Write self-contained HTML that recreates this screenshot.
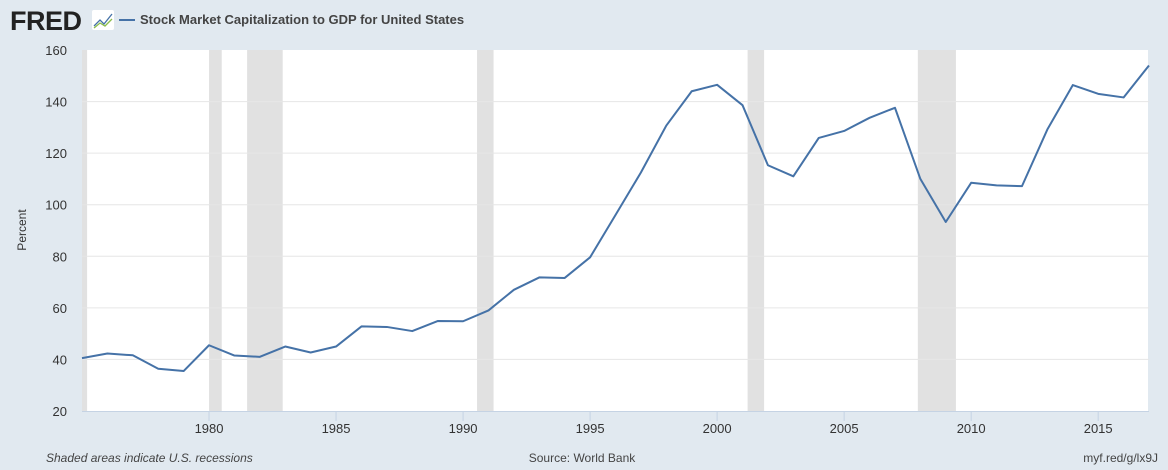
<!DOCTYPE html>
<html><head><meta charset="utf-8"><style>
body{margin:0;width:1168px;height:470px;background:#e1e9f0;font-family:"Liberation Sans",sans-serif;overflow:hidden}
</style></head><body>
<svg width="1168" height="470" style="position:absolute;left:0;top:0">
<text x="10" y="30" font-size="27" font-weight="900" fill="#222" letter-spacing="-0.5">FRED</text>
<g><rect x="92" y="10" width="22" height="20" fill="#fff" rx="2"/><polyline points="94,26 100,20 104,24 112,14" fill="none" stroke="#4572a7" stroke-width="1.3"/><polyline points="94,28 100,23 105,26 112,19" fill="none" stroke="#8bbd4a" stroke-width="1.3"/></g>
<line x1="119" y1="20" x2="135" y2="20" stroke="#4572a7" stroke-width="2"/>
<text x="140" y="24" font-size="13" font-weight="bold" fill="#444">Stock Market Capitalization to GDP for United States</text>
<rect x="82" y="50" width="1066" height="361" fill="#fff"/>
<g id="rec"></g><g id="grid"></g><g id="axes"></g><g id="series"></g>
<text x="26" y="230" font-size="12" fill="#333" transform="rotate(-90 26 230)" text-anchor="middle">Percent</text>
<text x="46" y="462" font-size="12" font-style="italic" fill="#444">Shaded areas indicate U.S. recessions</text>
<text x="582" y="462" font-size="12" fill="#444" text-anchor="middle">Source: World Bank</text>
<text x="1158" y="462" font-size="12" fill="#444" text-anchor="end">myf.red/g/lx9J</text>
</svg>
<script>
const years=[1975,1976,1977,1978,1979,1980,1981,1982,1983,1984,1985,1986,1987,1988,1989,1990,1991,1992,1993,1994,1995,1996,1997,1998,1999,2000,2001,2002,2003,2004,2005,2006,2007,2008,2009,2010,2011,2012,2013,2014,2015,2016,2017];
const values=[40.5,42.3,41.6,36.4,35.5,45.5,41.5,41.0,45.0,42.7,45.0,52.8,52.6,51.0,54.9,54.8,59.0,67.0,71.8,71.6,79.6,96,112.5,130.7,144,146.5,138.6,115.3,111,125.9,128.6,133.7,137.6,110,93.3,108.5,107.5,107.2,129.2,146.4,143,141.6,154];
const recStarts=[1975.0,1980.0,1981.5,1990.55,2001.2,2007.9];
const recEnds=[1975.2,1980.5,1982.9,1991.2,2001.85,2009.4];
const yTicks=[20,40,60,80,100,120,140,160];
const xTicks=[1980,1985,1990,1995,2000,2005,2010,2015];
const NS="http://www.w3.org/2000/svg";
const X0=82,X1=1149,Y0=411,Y1=50;
const xs=v=>X0+(v-1975)/(2017-1975)*(X1-X0);
const ys=v=>Y0-(v-20)/(160-20)*(Y0-Y1);
function mk(t,a,p){const e=document.createElementNS(NS,t);for(const k in a)e.setAttribute(k,a[k]);document.getElementById(p).appendChild(e);return e;}
recStarts.forEach((s,i)=>{const e=mk('rect',{x:xs(s),y:Y1,width:xs(recEnds[i])-xs(s),height:Y0-Y1,fill:'#e1e1e1'},'rec');

});
yTicks.forEach(v=>{if(v>20&&v<160){const g=mk('line',{x1:X0,x2:X1,y1:ys(v),y2:ys(v),stroke:'#e6e6e6'},'grid');

}
const t=mk('text',{x:67,y:ys(v)+5,'font-size':13,'text-anchor':'end',fill:'#333'},'axes');t.textContent=v;

});
const ax=mk('line',{x1:X0,x2:X1,y1:Y0+0.5,y2:Y0+0.5,stroke:'#c5d3e4'},'axes');


xTicks.forEach(v=>{const l=mk('line',{x1:xs(v),x2:xs(v),y1:Y0,y2:Y0+10,stroke:'#c5d3e4'},'axes');


const t=mk('text',{x:xs(v),y:Y0+22,'font-size':13,'text-anchor':'middle',fill:'#333'},'axes');t.textContent=v;

});
const p=mk('polyline',{points:years.map((y,i)=>xs(y)+','+ys(values[i])).join(' '),fill:'none',stroke:'#4572a7','stroke-width':2,'stroke-linejoin':'round'},'series');


</script>
</body></html>
